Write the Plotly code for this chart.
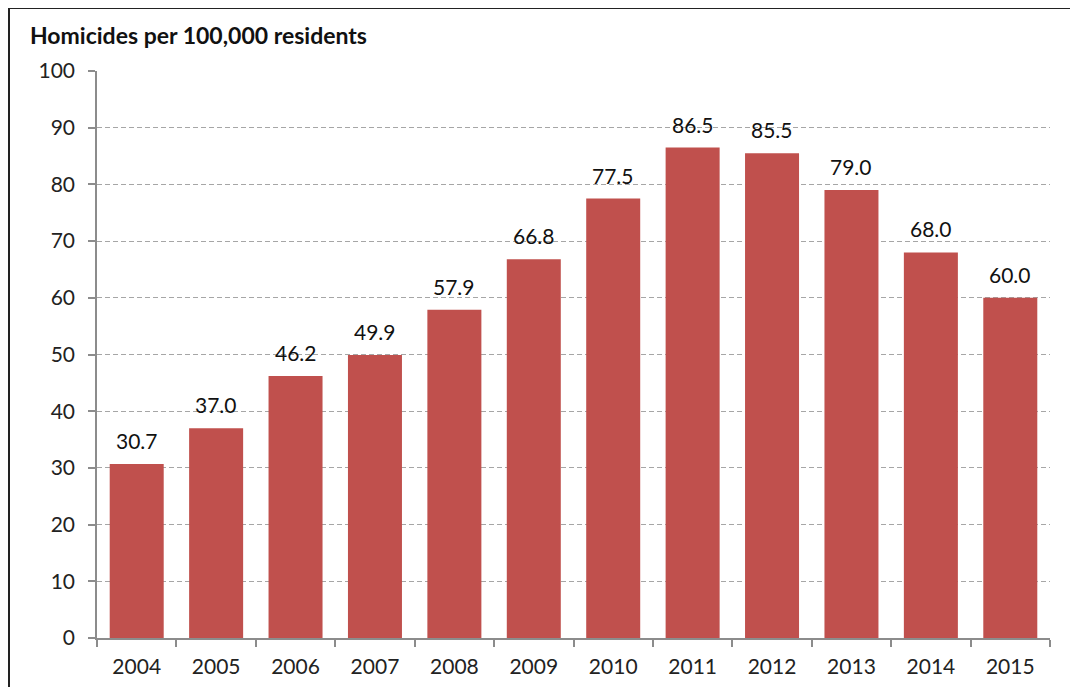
import plotly.graph_objects as go

years = ["2004", "2005", "2006", "2007", "2008", "2009", "2010", "2011", "2012", "2013", "2014", "2015"]
rates = [30.7, 37.0, 46.2, 49.9, 57.9, 66.8, 77.5, 86.5, 85.5, 79.0, 68.0, 60.0]
title_text = "Homicides per 100,000 residents"

W, H = 1078, 687
OFF = 8  # page body offset
# desired page-pixel positions of plot area
left_px, right_px, top_px, bottom_px = 97, 1050, 71, 638
ml = left_px - OFF
mt = top_px - OFF
mr = W - (right_px - OFF)
mb = H - (bottom_px - OFF)
pw, ph = W - ml - mr, H - mt - mb

def px_to_paper_x(px):
    return (px - OFF - ml) / pw

def px_to_paper_y(py):
    return (H - mb - (py - OFF)) / ph

FONT = "Lato, Open Sans, sans-serif"

fig = go.Figure(
    go.Bar(
        x=years, y=rates,
        marker=dict(color="#C0504D", line=dict(width=0)),
        hoverinfo="x+y",
    ),
    layout=dict(xaxis=dict(type="category")),
)

# value labels above bars (category index positions on the category axis)
for i, v in enumerate(rates):
    fig.add_annotation(
        x=i, y=v, xref="x", yref="y",
        text=f"{v:.1f}", showarrow=False,
        yanchor="bottom", yshift=9,
        font=dict(family=FONT, size=21, color="#111"),
    )

fig.update_layout(
    width=W, height=H,
    margin=dict(l=ml, r=mr, t=mt, b=mb),
    paper_bgcolor="white", plot_bgcolor="white",
    bargap=0.32,
    showlegend=False,
    font=dict(family=FONT, color="#222"),
    xaxis=dict(
        type="category",
        range=[-0.5, len(years) - 0.5],
        automargin=False,
        showgrid=False,
        showline=True, linecolor="#8c8c8c", linewidth=1.5,
        ticks="outside", tickson="boundaries", ticklen=7, tickcolor="#8c8c8c", tickwidth=1.5,
        tickfont=dict(size=21, color="#222"),
        tickangle=0,
        ticklabelstandoff=9,
    ),
    yaxis=dict(
        range=[0, 100],
        automargin=False,
        tickvals=list(range(0, 101, 10)),
        showgrid=True, gridcolor="#a6a6a6", griddash="5px,3px", gridwidth=1,
        showline=True, linecolor="#8c8c8c", linewidth=1.5,
        ticks="outside", ticklen=7, tickcolor="#8c8c8c", tickwidth=1.5,
        tickfont=dict(size=21, color="#222"),
        ticklabelstandoff=9,
        zeroline=False,
    ),
    shapes=[
        dict(type="line", xref="paper", yref="paper",
             x0=px_to_paper_x(9), x1=px_to_paper_x(1100),
             y0=px_to_paper_y(8), y1=px_to_paper_y(8),
             line=dict(color="#222", width=2)),
        dict(type="line", xref="paper", yref="paper",
             x0=px_to_paper_x(9), x1=px_to_paper_x(9),
             y0=px_to_paper_y(8), y1=px_to_paper_y(720),
             line=dict(color="#222", width=2)),
    ],
)

fig.add_annotation(
    text="<b>" + title_text + "</b>",
    xref="paper", yref="paper",
    x=px_to_paper_x(28), y=px_to_paper_y(35),
    xanchor="left", yanchor="middle",
    showarrow=False,
    font=dict(family=FONT, size=23, color="#111"),
)

fig.write_html("out.html")
